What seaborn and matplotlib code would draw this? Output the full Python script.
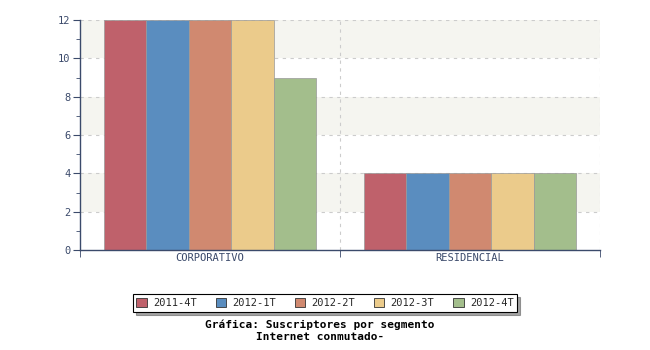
import matplotlib
matplotlib.use("Agg")
import matplotlib.pyplot as plt
import seaborn as sns
import pandas as pd
from matplotlib.ticker import MultipleLocator
from matplotlib.patches import Patch

categories = ["CORPORATIVO", "RESIDENCIAL"]
series = ["2011-4T", "2012-1T", "2012-2T", "2012-3T", "2012-4T"]
values_corporativo = [12, 12, 12, 12, 9]
values_residencial = [4, 4, 4, 4, 4]
colors = ["#bf616b", "#5a8dbf", "#d08970", "#ebcb8b", "#a3be8c"]

rows = []
for s, vc, vr in zip(series, values_corporativo, values_residencial):
    rows.append({"cat": categories[0], "serie": s, "val": vc})
    rows.append({"cat": categories[1], "serie": s, "val": vr})
df = pd.DataFrame(rows)

sns.set_style("white")
plt.rcParams['font.family'] = ['DejaVu Sans Mono', 'DejaVu Sans']
axcol = "#3b4a6b"

fig = plt.figure(figsize=(6.5, 3.5), dpi=100)
ax = fig.add_axes([80/650, 100/350, 520/650, 230/350])

# alternating bands
for lo in [2, 6, 10]:
    ax.axhspan(lo, lo + 2, color="#f5f5f0", zorder=0, lw=0)
for y in range(2, 13, 2):
    ax.axhline(y, color="#cccccc", ls=(0, (3, 4)), lw=0.8, zorder=0.5)
ax.axvline(0.5, color="#cccccc", ls=(0, (3, 4)), lw=0.8, zorder=0.5)
ax.axvline(1.5, color="#cccccc", ls=(0, (3, 4)), lw=0.8, zorder=0.5)

sns.barplot(data=df, x="cat", y="val", hue="serie", palette=colors,
            width=0.815, saturation=1, ax=ax, zorder=2,
            edgecolor="#999999", linewidth=0.5, legend=False)

ax.set_xlim(-0.5, 1.5)
ax.set_ylim(0, 12)
ax.set_xlabel("")
ax.set_ylabel("")
ax.yaxis.set_major_locator(MultipleLocator(2))
ax.yaxis.set_minor_locator(MultipleLocator(1))
ax.set_xticks([0, 1])
ax.set_xticklabels(categories)
ax.set_xticks([-0.5, 0.5, 1.5], minor=True)
ax.tick_params(axis="x", which="major", length=0, labelsize=7.5, colors=axcol, pad=2)
ax.tick_params(axis="x", which="minor", length=5, color=axcol, direction="out", bottom=True)
ax.tick_params(axis="y", which="major", length=5, labelsize=7.5, colors=axcol, pad=2, left=True)
ax.tick_params(axis="y", which="minor", length=3, color=axcol, left=True)

for side in ["top", "right"]:
    ax.spines[side].set_visible(False)
for side in ["left", "bottom"]:
    ax.spines[side].set_color(axcol)
    ax.spines[side].set_linewidth(1)

handles = [Patch(facecolor=c, edgecolor="#333333", linewidth=0.6) for c in colors]
leg = fig.legend(handles, series, loc="center", bbox_to_anchor=(325/650, 1 - 303/350),
                 ncol=5, fontsize=7.5, frameon=True, fancybox=False, shadow=True,
                 handlelength=1.0, handleheight=1.0, handletextpad=0.6,
                 columnspacing=1.8, borderpad=0.35)
leg.get_frame().set_edgecolor("#000000")
leg.get_frame().set_linewidth(0.8)

fig.text(320/650, 1 - 325/350, "Gráfica: Suscriptores por segmento", ha="center",
         va="center", fontsize=8, fontweight="bold", color="#000000")
fig.text(320/650, 1 - 337/350, "Internet conmutado-", ha="center",
         va="center", fontsize=8, fontweight="bold", color="#000000")

fig.savefig("out.png", dpi=100)
